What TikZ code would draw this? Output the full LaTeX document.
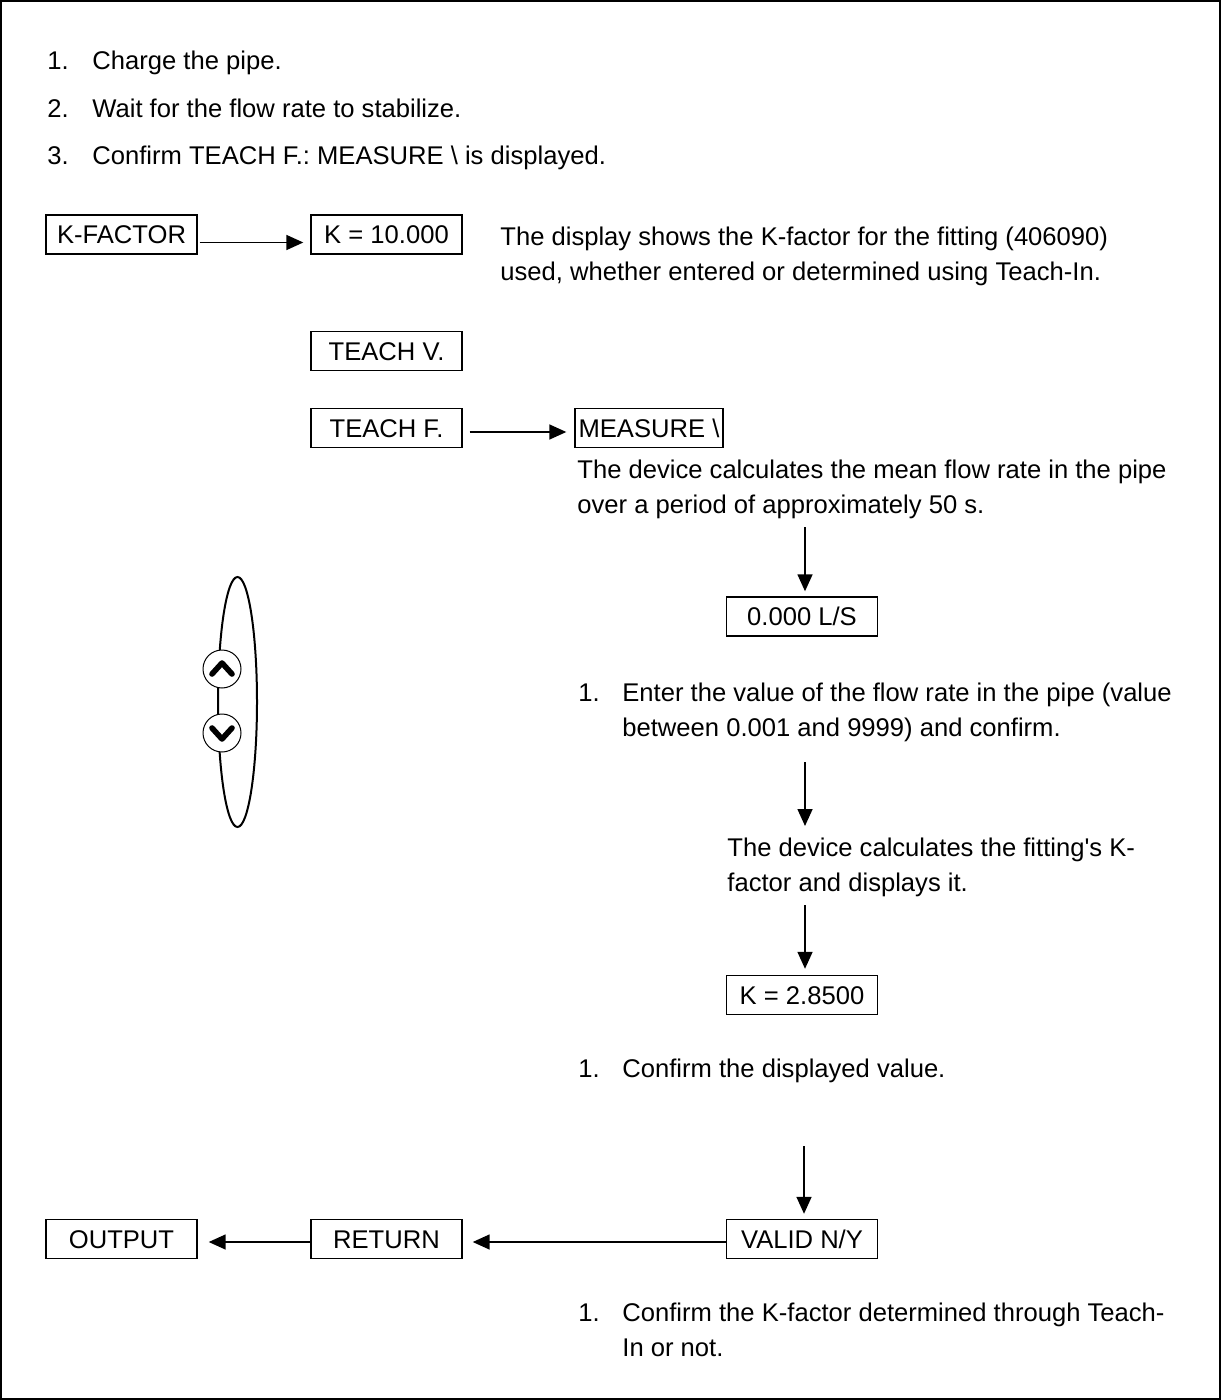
\documentclass[tikz,border=0pt]{standalone}
\usepackage{fontspec}
\setmainfont{Liberation Sans}
\usetikzlibrary{arrows.meta}
\begin{document}
\frenchspacing
\begin{tikzpicture}[x=0.5pt,y=-0.5pt,
  font=\fontsize{12.8}{17.5}\selectfont,
  box/.style={draw, line width=0.7pt, minimum width=75.5pt, minimum height=19.5pt, inner sep=0pt, text height=9.2pt, text depth=0pt},
  txt/.style={anchor=base west, inner sep=0pt, align=left},
  arr/.style={line width=0.8pt, -{Triangle[length=8.5pt,width=7.5pt]}},
  btn/.style={circle, draw, fill=white, line width=0.5pt, minimum size=19pt, inner sep=0pt},
  chev/.style={line width=2.8pt, line cap=round, line join=round},
]
\useasboundingbox (0,0) rectangle (1221,1400);
\draw[line width=0.6pt] (1,1) rectangle (1220,1399);

% top list
\node[txt] (n1) at (47,70) {1.};
\node[txt] (t1) at (92,70) {Charge the pipe.};
\node[txt] (n2) at (47,118) {2.};
\node[txt] (t2) at (92,118) {Wait for the flow rate to stabilize.};
\node[txt] (n3) at (47,165) {3.};
\node[txt] (t3) at (92,165) {Confirm TEACH F.: MEASURE \textbackslash{} is displayed.};

% boxes and texts
\node[box] (kf) at (121.5,234.5) {K-FACTOR};
\node[box] (k10) at (386.5,234.5) {K = 10.000};
\node[txt] (d1) at (500,281) {The display shows the K-factor for the fitting (406090)\\used, whether entered or determined using Teach-In.};
\node[box] (tv) at (386.5,351) {TEACH V.};
\node[box] (tf) at (386.5,428) {TEACH F.};
\node[box, minimum width=74pt] (meas) at (649,428) {MEASURE \textbackslash};
\node[txt] (d2) at (577,514) {The device calculates the mean flow rate in the pipe\\over a period of approximately 50 s.};
\node[box] (lps) at (802,616.5) {0.000 L/S};
\node[txt] (n4) at (578,701) {1.};
\node[txt] (d3) at (622,736) {Enter the value of the flow rate in the pipe (value\\between 0.001 and 9999) and confirm.};
\node[txt] (d4) at (727,891) {The device calculates the fitting\textquotesingle s K-\\factor and displays it.};
\node[box] (k28) at (802,995) {K = 2.8500};
\node[txt] (n5) at (578,1077) {1.};
\node[txt] (d5) at (622,1077) {Confirm the displayed value.};
\node[box] (val) at (802,1239) {VALID N/Y};
\node[box] (ret) at (386.5,1239) {RETURN};
\node[box] (out) at (121.5,1239) {OUTPUT};
\node[txt] (n6) at (578,1321) {1.};
\node[txt] (d6) at (622,1356) {Confirm the K-factor determined through Teach-\\In or not.};

% horizontal arrows
\draw[arr, shorten <=1pt, shorten >=3.5pt] ([yshift=-4pt]kf.east) -- ([yshift=-4pt]k10.west);
\draw[arr, shorten <=3.5pt, shorten >=4pt] ([yshift=-2pt]tf.east) -- ([yshift=-2pt]meas.west);
\draw[arr, shorten >=5pt] ([yshift=-1.5pt]val.west) -- ([yshift=-1.5pt]ret.east);
\draw[arr, shorten >=5.5pt] ([yshift=-1.5pt]ret.west) -- ([yshift=-1.5pt]out.east);

% vertical arrows
\coordinate (a1) at (805,527);
\coordinate (a2s) at (805,762);
\coordinate (a2e) at (805,826);
\coordinate (a3) at (805,905);
\coordinate (a4) at (804,1146);
\draw[arr, shorten >=2.5pt] (a1) -- (a1 |- lps.north);
\draw[arr] (a2s) -- (a2e);
\draw[arr, shorten >=3pt] (a3) -- (a3 |- k28.north);
\draw[arr, shorten >=2.5pt] (a4) -- (a4 |- val.north);

% up/down keys
\draw[line width=1pt] (237.5,702) ellipse [x radius=19.5, y radius=125];
\node[btn] (up) at (222,669) {};
\node[btn] (dn) at (222,733) {};
\draw[chev] ([shift={(-10,5)}]up.center) -- ([shift={(0,-6)}]up.center) -- ([shift={(10,5)}]up.center);
\draw[chev] ([shift={(-10,-5)}]dn.center) -- ([shift={(0,6)}]dn.center) -- ([shift={(10,-5)}]dn.center);
\end{tikzpicture}
\end{document}
